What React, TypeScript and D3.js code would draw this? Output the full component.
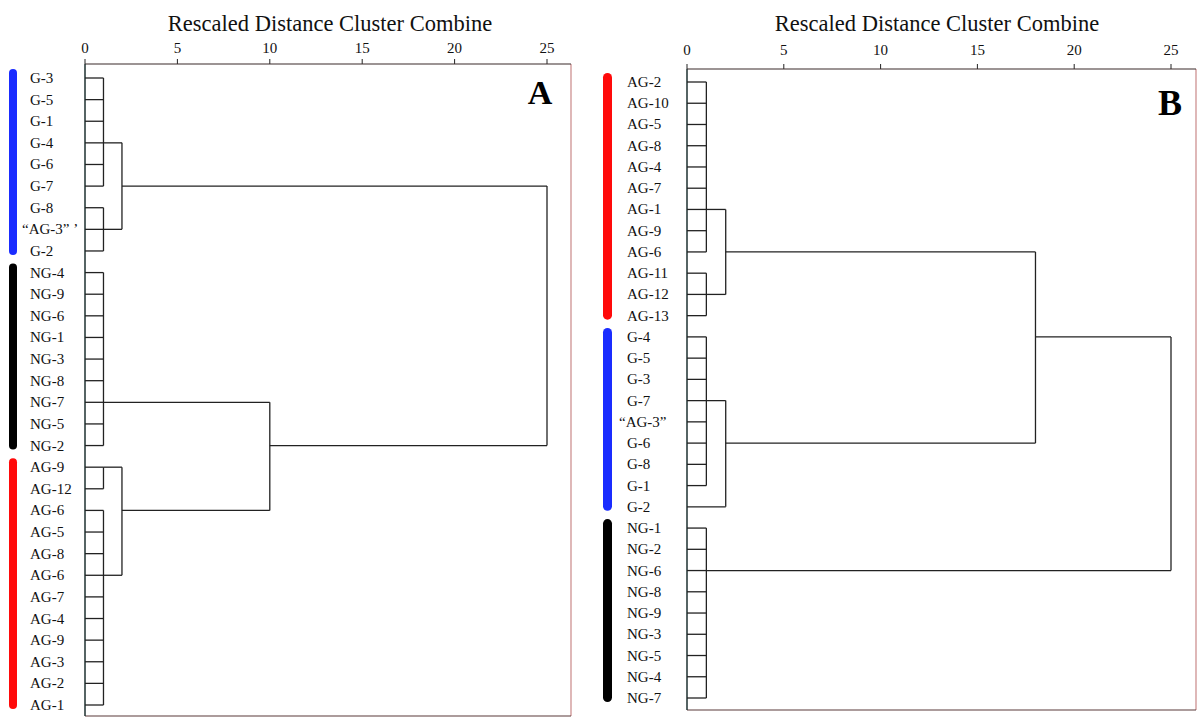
import React from 'react';
import * as d3 from 'd3';

// panel A leaves, top to bottom
const leavesA = [
  'G-3', 'G-5', 'G-1', 'G-4', 'G-6', 'G-7', 'G-8', '“AG-3” ’', 'G-2',
  'NG-4', 'NG-9', 'NG-6', 'NG-1', 'NG-3', 'NG-8', 'NG-7', 'NG-5', 'NG-2',
  'AG-9', 'AG-12', 'AG-6', 'AG-5', 'AG-8', 'AG-6', 'AG-7', 'AG-4', 'AG-9', 'AG-3', 'AG-2', 'AG-1',
];
// merges: ids < leaves.length are leaves, others are earlier merges (n + k)
const mergeChildrenA = [
  [0, 1, 2, 3, 4, 5],
  [6, 7, 8],
  [30, 31],
  [9, 10, 11, 12, 13, 14, 15, 16, 17],
  [18, 19],
  [20, 21, 22, 23, 24, 25, 26, 27, 28, 29],
  [34, 35],
  [33, 36],
  [32, 37],
];
const mergeHeightA = [1, 1, 2, 1, 1, 1, 2, 10, 25];
const mergeRowA = [3, 7, 5, 15, 18, 23, 20, 17, -1];
const groupStartA = [0, 9, 18];
const groupEndA = [8, 17, 29];
const groupColorA = ['#1a2cff', '#000000', '#ff0a0a'];

const leavesB = [
  'AG-2', 'AG-10', 'AG-5', 'AG-8', 'AG-4', 'AG-7', 'AG-1', 'AG-9', 'AG-6', 'AG-11', 'AG-12', 'AG-13',
  'G-4', 'G-5', 'G-3', 'G-7', '“AG-3”', 'G-6', 'G-8', 'G-1', 'G-2',
  'NG-1', 'NG-2', 'NG-6', 'NG-8', 'NG-9', 'NG-3', 'NG-5', 'NG-4', 'NG-7',
];
const mergeChildrenB = [
  [0, 1, 2, 3, 4, 5, 6, 7, 8],
  [9, 10, 11],
  [30, 31],
  [12, 13, 14, 15, 16, 17, 18, 19],
  [33, 20],
  [32, 34],
  [21, 22, 23, 24, 25, 26, 27, 28, 29],
  [35, 36],
];
const mergeHeightB = [1, 1, 2, 1, 2, 18, 1, 25];
const mergeRowB = [6, 10, 8, 15, 17, 12, 23, -1];
const groupStartB = [0, 12, 21];
const groupEndB = [11, 20, 29];
const groupColorB = ['#ff0a0a', '#1a2cff', '#000000'];

const ticks = [0, 5, 10, 15, 20, 25];
const title = 'Rescaled Distance Cluster Combine';
const font = '"Liberation Serif", "Times New Roman", serif';

type PanelProps = {
  leaves: string[];
  children: number[][];
  heights: number[];
  rows: number[];
  gStart: number[];
  gEnd: number[];
  gColor: string[];
  letter: string;
  x0: number; x25: number; right: number;
  axisY: number; bottom: number;
  row0: number; rowLast: number;
  labelX: number; barX: number; barW: number; titleX: number;
  tickLabelY: number; letterX: number; letterY: number; letterSize: number;
};

function Panel(p: PanelProps) {
  const n = p.leaves.length;
  const x = d3.scaleLinear().domain([0, 25]).range([p.x0, p.x25]);
  const y = d3.scaleLinear().domain([0, n - 1]).range([p.row0, p.rowLast]);
  const line = '#222';
  const rowOf = (c: number) => (c < n ? c : p.rows[c - n]);
  const hOf = (c: number) => (c < n ? 0 : p.heights[c - n]);

  const segs: { x1: number; y1: number; x2: number; y2: number }[] = [];
  p.children.forEach((ch, k) => {
    const h = p.heights[k];
    const rs = ch.map(rowOf);
    segs.push({ x1: x(h), x2: x(h), y1: y(d3.min(rs)!), y2: y(d3.max(rs)!) });
    ch.forEach((c) => {
      segs.push({ x1: x(hOf(c)), x2: x(h), y1: y(rowOf(c)), y2: y(rowOf(c)) });
    });
  });

  return (
    <g fontFamily={font}>
      <text x={p.titleX} y={31} fontSize={22.5} textAnchor="middle" fill="#111">{title}</text>
      {ticks.map((t) => (
        <g key={t}>
          <line x1={x(t)} x2={x(t)} y1={p.axisY - 5} y2={p.axisY} stroke={line} strokeWidth={1} />
          <text x={x(t)} y={p.tickLabelY} fontSize={15} textAnchor="middle" fill="#111">{t}</text>
        </g>
      ))}
      <line x1={p.right} x2={p.right} y1={p.axisY} y2={p.bottom} stroke="#c98888" strokeWidth={1.2} />
      <line x1={p.x0} x2={p.right} y1={p.bottom} y2={p.bottom} stroke="#5a3a3a" strokeWidth={1.2} />
      <line x1={p.x0} x2={p.right} y1={p.axisY} y2={p.axisY} stroke="#3a2a2a" strokeWidth={1.2} />
      <line x1={p.x0} x2={p.x0} y1={p.axisY} y2={p.bottom} stroke="#1e3030" strokeWidth={1.5} />
      {segs.map((s, i) => (
        <line key={i} {...s} stroke={line} strokeWidth={1.3} />
      ))}
      {p.leaves.map((l, i) => (
        <text key={i} x={l.startsWith('“') ? p.labelX - 8 : p.labelX} y={y(i) + 5} fontSize={15} fill="#111">{l}</text>
      ))}
      {p.gStart.map((s, i) => (
        <rect key={i} x={p.barX} width={p.barW} y={y(s) - 9} height={y(p.gEnd[i]) - y(s) + 13} rx={p.barW / 2} fill={p.gColor[i]} />
      ))}
      <text x={p.letterX} y={p.letterY} fontSize={p.letterSize} fontWeight="bold" textAnchor="middle" fill="#000">{p.letter}</text>
    </g>
  );
}

export default function App() {
  return (
    <svg width={1200} height={726} style={{ position: 'absolute', left: 0, top: 0, background: '#fff' }}>
      <rect width={1200} height={726} fill="#fff" />
      <Panel leaves={leavesA} children={mergeChildrenA} heights={mergeHeightA} rows={mergeRowA}
        gStart={groupStartA} gEnd={groupEndA} gColor={groupColorA} letter="A"
        x0={85} x25={547} right={571} axisY={64} bottom={716} row0={78} rowLast={705}
        labelX={30} barX={9} barW={8} titleX={330} tickLabelY={53} letterX={540} letterY={104} letterSize={34} />
      <Panel leaves={leavesB} children={mergeChildrenB} heights={mergeHeightB} rows={mergeRowB}
        gStart={groupStartB} gEnd={groupEndB} gColor={groupColorB} letter="B"
        x0={687} x25={1171} right={1196} axisY={69} bottom={710} row0={82} rowLast={698}
        labelX={627} barX={603} barW={9} titleX={937} tickLabelY={55} letterX={1170} letterY={115} letterSize={36} />
    </svg>
  );
}
